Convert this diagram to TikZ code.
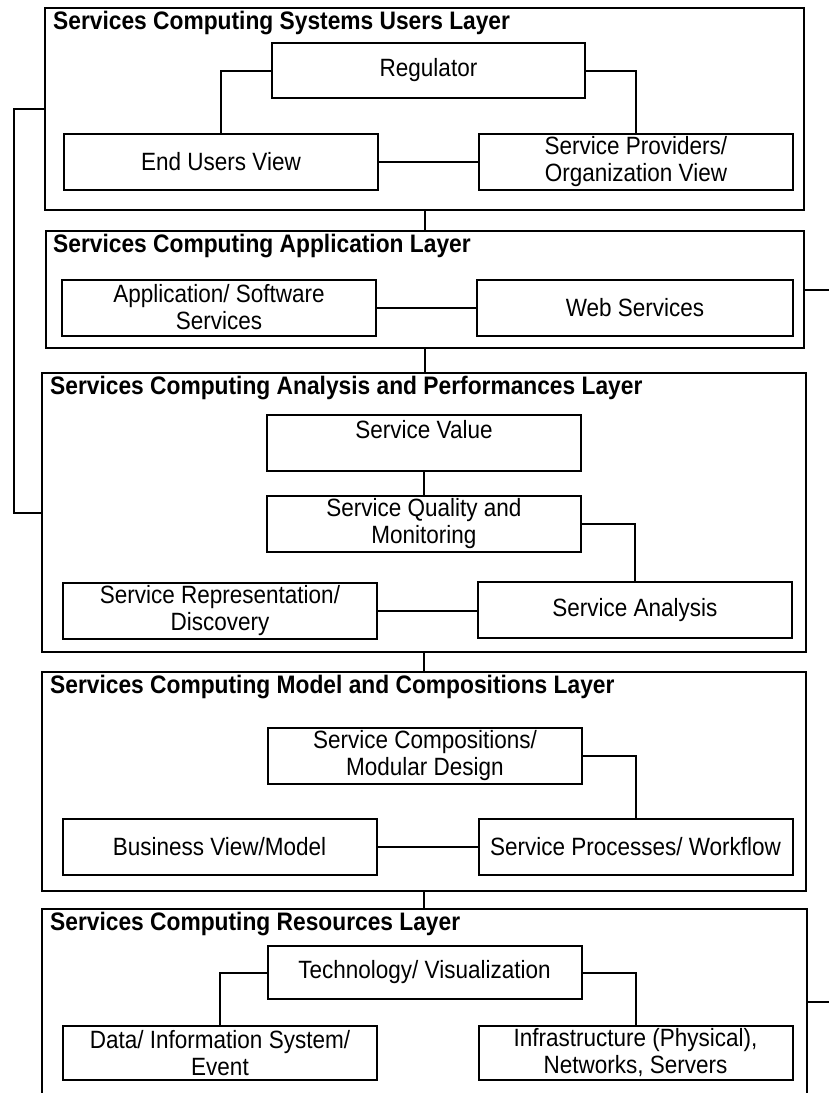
\documentclass[tikz,border=0pt]{standalone}
\usepackage{fontspec}
\setmainfont{Liberation Sans}[FakeStretch=0.9]
\begin{document}
\begin{tikzpicture}[x=1pt,y=-1pt,
  layer/.style={draw, line width=2pt, inner sep=0pt},
  box/.style={draw, line width=2pt, minimum width=314pt, minimum height=56pt,
    inner sep=0pt, align=center, font=\fontsize{25}{27}\selectfont},
  ttl/.style={anchor=west, inner sep=0pt, font=\bfseries\fontsize{25.3}{27}\selectfont},
  link/.style={line width=2pt}]
\useasboundingbox (0,0) rectangle (829,1093);
\clip (0,0) rectangle (829,1093);

% layer frames
\node[layer, minimum width=759pt, minimum height=202pt] (L1) at (424.5,109) {};
\node[layer, minimum width=758pt, minimum height=117pt] (L2) at (425,289.5) {};
\node[layer, minimum width=764pt, minimum height=279pt] (L3) at (424,512.5) {};
\node[layer, minimum width=764pt, minimum height=219pt] (L4) at (424,781.5) {};
\node[layer, minimum width=765pt, minimum height=201pt] (L5) at (424.5,1009.5) {};

% layer titles
\node[ttl] (T1) at ([xshift=9pt,yshift=-16pt]L1.north west) {Services Computing Systems Users Layer};
\node[ttl] (T2) at ([xshift=8pt,yshift=-16pt]L2.north west) {Services Computing Application Layer};
\node[ttl] (T3) at ([xshift=9pt,yshift=-16pt]L3.north west) {Services Computing Analysis and Performances Layer};
\node[ttl] (T4) at ([xshift=9pt,yshift=-16pt]L4.north west) {Services Computing Model and Compositions Layer};
\node[ttl] (T5) at ([xshift=9pt,yshift=-16pt]L5.north west) {Services Computing Resources Layer};

% users layer
\node[box, minimum width=313pt, minimum height=55pt] (reg) at (428.5,70.5) {Regulator};
\node[box] (euv) at (221,161.5) {End Users View};
\node[box] (spv) at (636,162) {Service Providers/\\Organization View};

% application layer
\node[box] (app) at (219,307.5) {Application/ Software\\Services};
\node[box, minimum width=316pt] (web) at (635,307.5) {Web Services};

% analysis and performances layer
\node[box] (sv) at (424,443) {Service Value\\\mbox{}};
\node[box] (sq) at (424,524) {Service Quality and\\Monitoring};
\node[box] (sr) at (220,610.5) {Service Representation/\\Discovery};
\node[box] (sa) at (635,610) {Service Analysis};

% model and compositions layer
\node[box] (sc) at (425,756) {Service Compositions/\\Modular Design};
\node[box] (bv) at (219.5,847) {Business View/Model};
\node[box] (sp) at (635.5,847) {Service Processes/ Workflow};

% resources layer
\node[box, minimum height=53pt] (tech) at (424.5,972.5) {Technology/ Visualization};
\node[box, minimum height=54pt] (data) at (220,1053) {Data/ Information System/\\Event};
\node[box, minimum height=54pt] (infra) at (635.5,1053) {Infrastructure (Physical),\\Networks, Servers};

% free ends
\coordinate (bx) at (14,0);
\coordinate (r2) at (829,289.5);
\coordinate (r5) at (829,1002);

% connectors inside layers
\draw[link] (reg.west) -| (euv.north);
\draw[link] (reg.east) -| (spv.north);
\draw[link] (euv.east) -- (spv.west |- euv.east);
\draw[link] (app.east) -- (web.west);
\draw[link] (sv.south) -- (sq.north);
\draw[link] (sq.east) -| (sa.north);
\draw[link] (sr.east) -- (sa.west |- sr.east);
\draw[link] (sc.east) -| (sp.north);
\draw[link] (bv.east) -- (sp.west);
\draw[link] (tech.west) -| (data.north);
\draw[link] (tech.east) -| (infra.north);

% connectors between layers
\draw[link] (L1.south) -- (L1.south |- L2.north);
\draw[link] (L2.south) -- (L2.south |- L3.north);
\draw[link] (L3.south) -- (L3.south |- L4.north);
\draw[link] (L4.south) -- (L4.south |- L5.north);
\draw[link] (L1.west) -- (L1.west -| bx) |- (L3.west);
\draw[link] (L2.east) -- (r2);
\draw[link] (L5.east |- r5) -- (r5);
\end{tikzpicture}
\end{document}
